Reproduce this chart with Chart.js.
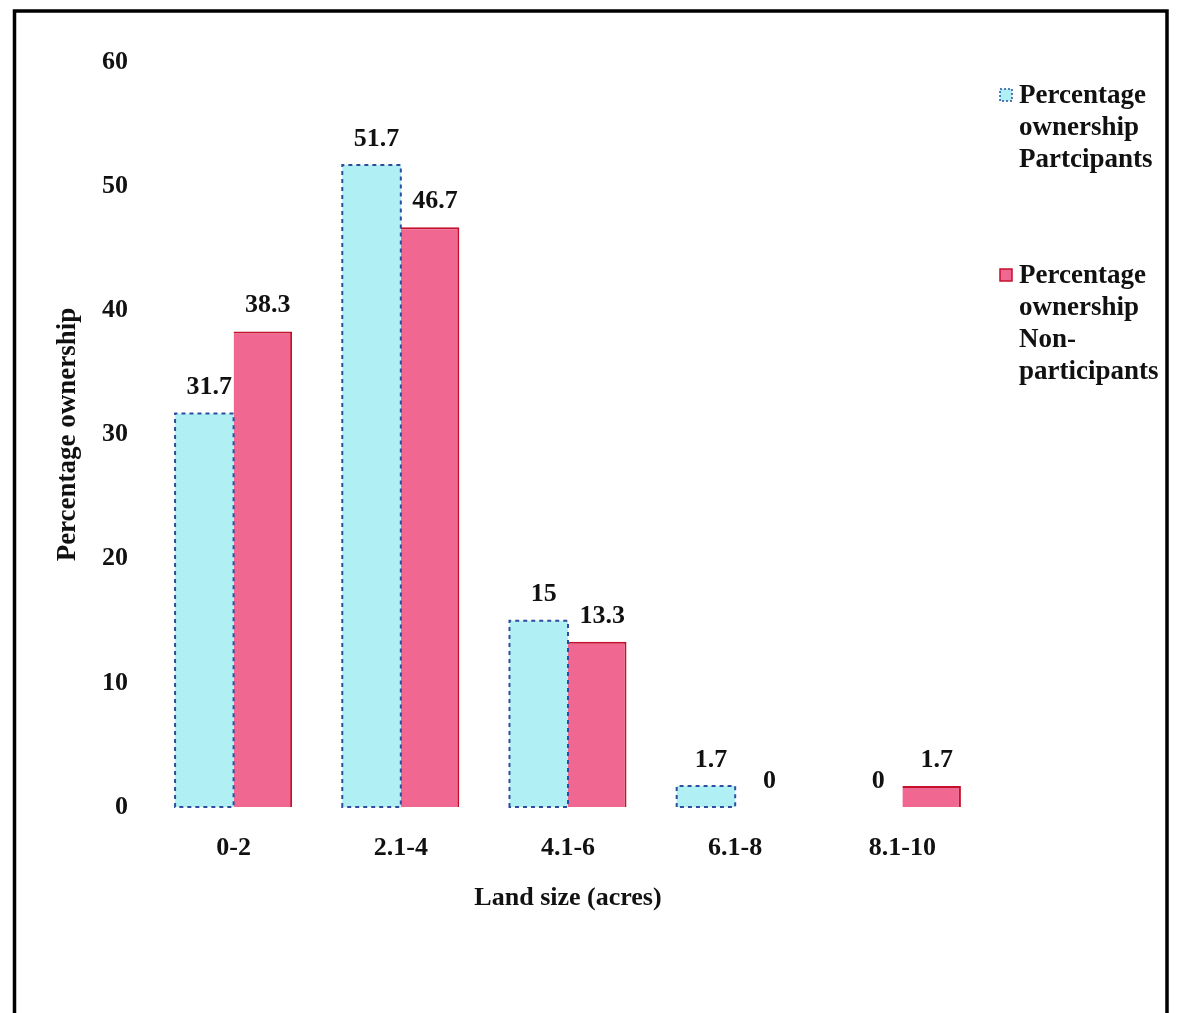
<!DOCTYPE html>
<html>
<head>
<meta charset="utf-8">
<title>Land size ownership</title>
<script src="https://cdn.jsdelivr.net/npm/chart.js@4.4.1/dist/chart.umd.min.js"></script>
<style>
  html, body { margin: 0; padding: 0; background: #ffffff; }
  #wrap { width: 1180px; height: 1013px; position: relative; }
</style>
</head>
<body>
<div id="wrap"><canvas id="c" width="1180" height="1013"></canvas></div>
<script>
// Land size classes (acres)
const categories = ['0-2', '2.1-4', '4.1-6', '6.1-8', '8.1-10'];
// Percentage ownership per land size class
const participants = [31.7, 51.7, 15, 1.7, 0];
const nonParticipants = [38.3, 46.7, 13.3, 0, 1.7];
// Series names, split the way they are set in the legend
const seriesNames = [
  ['Percentage', 'ownership', 'Partcipants'],
  ['Percentage', 'ownership', 'Non-', 'participants']
];
const yTicks = [0, 10, 20, 30, 40, 50, 60];

const FONT = '"Liberation Serif", "Times New Roman", serif';
const INK = '#111111';
const CYAN = '#b0f0f4';
const CYAN_EDGE = '#2b4f9e';
const PINK = '#f06892';
const PINK_EDGE = '#c4102c';

// Outer frame around the figure
const framePlugin = {
  id: 'frame',
  afterDraw(chart) {
    const ctx = chart.ctx;
    ctx.save();
    ctx.strokeStyle = '#000';
    ctx.lineWidth = 3.5;
    ctx.beginPath();
    ctx.moveTo(14.5, chart.height + 2);
    ctx.lineTo(14.5, 11);
    ctx.lineTo(1167, 11);
    ctx.lineTo(1167, chart.height + 2);
    ctx.stroke();
    ctx.restore();
  }
};

// Dashed outline for the participants bars
const dashedEdgePlugin = {
  id: 'dashedEdge',
  afterDatasetsDraw(chart) {
    const ctx = chart.ctx;
    const meta = chart.getDatasetMeta(0);
    ctx.save();
    ctx.strokeStyle = CYAN_EDGE;
    ctx.lineWidth = 2;
    ctx.setLineDash([4, 4]);
    meta.data.forEach((bar) => {
      const p = bar.getProps(['x', 'y', 'base', 'width'], true);
      if (Math.abs(p.base - p.y) < 0.5) return;
      const l = p.x - p.width / 2, r = p.x + p.width / 2;
      ctx.beginPath();
      ctx.moveTo(l, p.base);
      ctx.lineTo(l, p.y);
      ctx.lineTo(r, p.y);
      ctx.lineTo(r, p.base);
      ctx.closePath();
      ctx.stroke();
    });
    ctx.restore();
  }
};

// Value printed above every bar
const valueLabelPlugin = {
  id: 'valueLabels',
  afterDatasetsDraw(chart) {
    const ctx = chart.ctx;
    ctx.save();
    ctx.font = 'bold 26px ' + FONT;
    ctx.fillStyle = INK;
    ctx.textAlign = 'center';
    ctx.textBaseline = 'middle';
    chart.data.datasets.forEach((ds, i) => {
      chart.getDatasetMeta(i).data.forEach((bar, j) => {
        const p = bar.getProps(['x', 'y'], true);
        ctx.fillText(String(ds.data[j]), p.x + 5, p.y - 26);
      });
    });
    ctx.restore();
  }
};

// Legend on the right with wrapped series names
const sideLegendPlugin = {
  id: 'sideLegend',
  afterDraw(chart) {
    const ctx = chart.ctx;
    const x0 = 1000, textX = 1019, lineGap = 32;
    const tops = [96, 276];
    ctx.save();
    ctx.font = 'bold 27px ' + FONT;
    ctx.textAlign = 'left';
    ctx.textBaseline = 'middle';
    chart.data.datasets.forEach((ds, i) => {
      const y = tops[i];
      ctx.fillStyle = ds.backgroundColor;
      ctx.fillRect(x0, y - 7, 12, 12);
      ctx.strokeStyle = i === 0 ? CYAN_EDGE : PINK_EDGE;
      ctx.lineWidth = 1.5;
      if (i === 0) ctx.setLineDash([2, 2]); else ctx.setLineDash([]);
      ctx.strokeRect(x0, y - 7, 12, 12);
      ctx.setLineDash([]);
      ctx.fillStyle = INK;
      seriesNames[i].forEach((line, k) => ctx.fillText(line, textX, y + k * lineGap));
    });
    ctx.restore();
  }
};

new Chart(document.getElementById('c'), {
  type: 'bar',
  data: {
    labels: categories,
    datasets: [
      {
        label: seriesNames[0].join(' '),
        data: participants,
        backgroundColor: CYAN,
        borderWidth: 0
      },
      {
        label: seriesNames[1].join(' ').replace('Non- ', 'Non-'),
        data: nonParticipants,
        backgroundColor: PINK,
        borderColor: PINK_EDGE,
        borderWidth: { top: 2, right: 2, bottom: 2, left: 0 }
      }
    ]
  },
  options: {
    responsive: false,
    animation: false,
    devicePixelRatio: 1,
    layout: { padding: { left: 40, top: 62, right: 194, bottom: 93 } },
    datasets: { bar: { categoryPercentage: 0.7, barPercentage: 1.0 } },
    plugins: {
      legend: { display: false },
      tooltip: { enabled: false }
    },
    scales: {
      x: {
        grid: { display: false, drawTicks: false },
        border: { display: false },
        ticks: { color: INK, font: { family: FONT, size: 26, weight: 'bold' }, padding: 26 },
        title: {
          display: true,
          text: 'Land size (acres)',
          color: INK,
          font: { family: FONT, size: 26, weight: 'bold' },
          padding: { top: 0, bottom: 6 }
        },
        afterFit(scale) { scale.height = 113; }
      },
      y: {
        min: 0,
        max: 60,
        grid: { display: false, drawTicks: false },
        border: { display: false },
        afterBuildTicks(scale) { scale.ticks = yTicks.map((v) => ({ value: v })); },
        ticks: { color: INK, font: { family: FONT, size: 26, weight: 'bold' }, padding: 22 },
        title: {
          display: true,
          text: 'Percentage ownership',
          color: INK,
          font: { family: FONT, size: 27, weight: 'bold' },
          padding: { top: 12, bottom: 0 }
        },
        afterFit(scale) { scale.width = 110; }
      }
    }
  },
  plugins: [framePlugin, dashedEdgePlugin, valueLabelPlugin, sideLegendPlugin]
});
</script>
</body>
</html>
